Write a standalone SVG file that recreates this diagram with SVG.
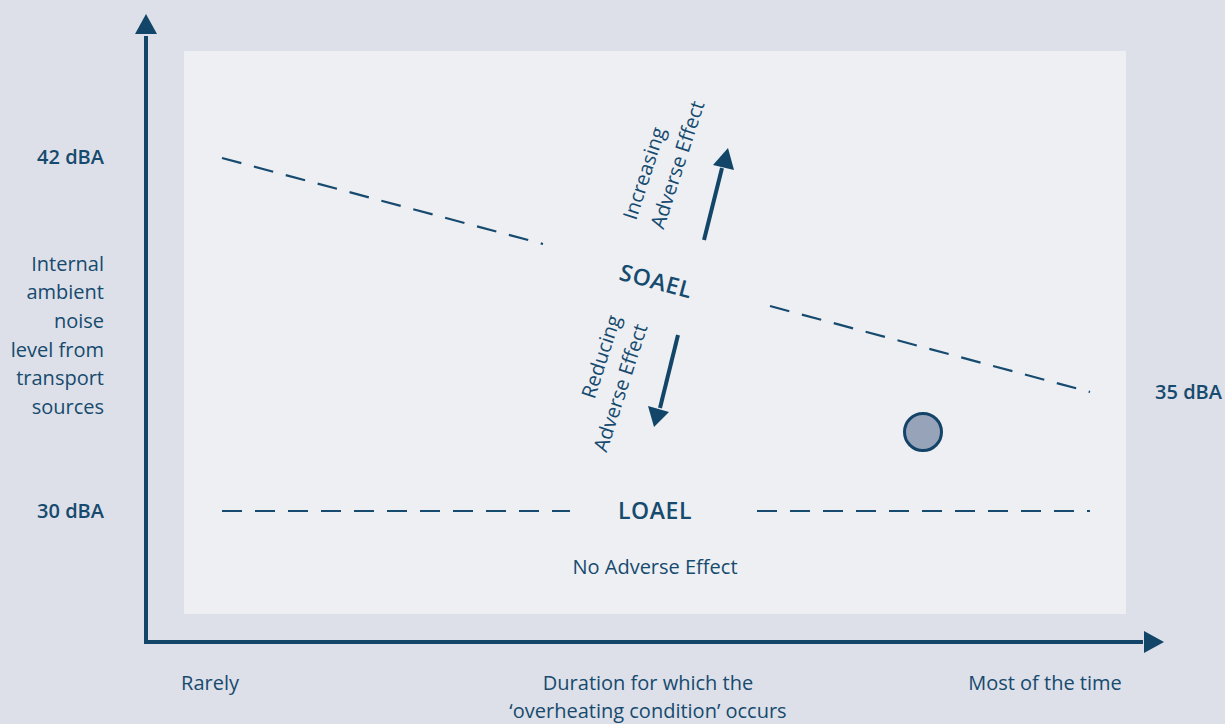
<svg xmlns="http://www.w3.org/2000/svg" width="1225" height="724" viewBox="0 0 1225 724">
<defs>
<style>
text{font-family:"Open Sans","Noto Sans","DejaVu Sans",sans-serif;fill:#164a6e;font-size:20px}
.b{font-weight:600}
.m{font-weight:600;font-size:23px;letter-spacing:0.6px}
.dash{stroke:#164a6e;stroke-width:2.2;stroke-dasharray:20 13;fill:none}
.ax{stroke:#124568;stroke-width:4;fill:none}
</style>
</defs>
<rect width="1225" height="724" fill="#dde0e8"/>
<rect x="184" y="51" width="942" height="563" fill="#edeff3"/>
<g id="connectors">
<line class="ax" x1="146" y1="644" x2="146" y2="36"/>
<polygon points="146,14 135,34 157,34" fill="#124568"/>
<line class="ax" x1="144" y1="642" x2="1143" y2="642"/>
<polygon points="1164,642 1144,631 1144,653" fill="#124568"/>
<line class="dash" x1="222" y1="158" x2="543" y2="244"/>
<line class="dash" x1="770" y1="306" x2="1090" y2="392"/>
<line class="dash" x1="222" y1="511" x2="570" y2="511"/>
<line class="dash" x1="757" y1="511" x2="1090" y2="511"/>
<line x1="704" y1="240" x2="722" y2="168" stroke="#124568" stroke-width="4"/>
<polygon points="728,148 713,165 734,170" fill="#124568"/>
<line x1="678" y1="335" x2="660" y2="408" stroke="#124568" stroke-width="4"/>
<polygon points="654,427 648,406 669,412" fill="#124568"/>
</g>
<g id="circle"><circle cx="923" cy="432" r="18.5" fill="#97a3b8" stroke="#134468" stroke-width="3"/></g>
<g id="y-labels">
<text class="b" x="104" y="164" text-anchor="end">42 dBA</text>
<text class="b" x="104" y="518" text-anchor="end">30 dBA</text>
<text class="b" x="1222" y="399" text-anchor="end">35 dBA</text>
<text x="104" y="271" text-anchor="end">Internal</text>
<text x="104" y="299" text-anchor="end">ambient</text>
<text x="104" y="328" text-anchor="end">noise</text>
<text x="104" y="357" text-anchor="end">level from</text>
<text x="104" y="385" text-anchor="end">transport</text>
<text x="104" y="414" text-anchor="end">sources</text>
</g>
<g id="soael"><text class="m" x="0" y="0" text-anchor="middle" transform="translate(654,289) rotate(15)">SOAEL</text></g>
<g id="loael"><text class="m" x="655" y="519" text-anchor="middle">LOAEL</text></g>
<g id="increasing"><text transform="translate(636,221) rotate(-72)"><tspan x="0" y="0">Increasing</tspan><tspan x="0" y="29">Adverse Effect</tspan></text></g>
<g id="reducing"><text text-anchor="end" transform="translate(621,318) rotate(-72)"><tspan x="0" y="0">Reducing</tspan><tspan x="0" y="28">Adverse Effect</tspan></text></g>
<g id="noeffect"><text x="655" y="574" text-anchor="middle">No Adverse Effect</text></g>
<g id="x-labels">
<text x="210" y="690" text-anchor="middle">Rarely</text>
<text x="648" y="690" text-anchor="middle">Duration for which the</text>
<text x="648" y="718" text-anchor="middle">‘overheating condition’ occurs</text>
<text x="1045" y="690" text-anchor="middle">Most of the time</text>
</g>
</svg>
